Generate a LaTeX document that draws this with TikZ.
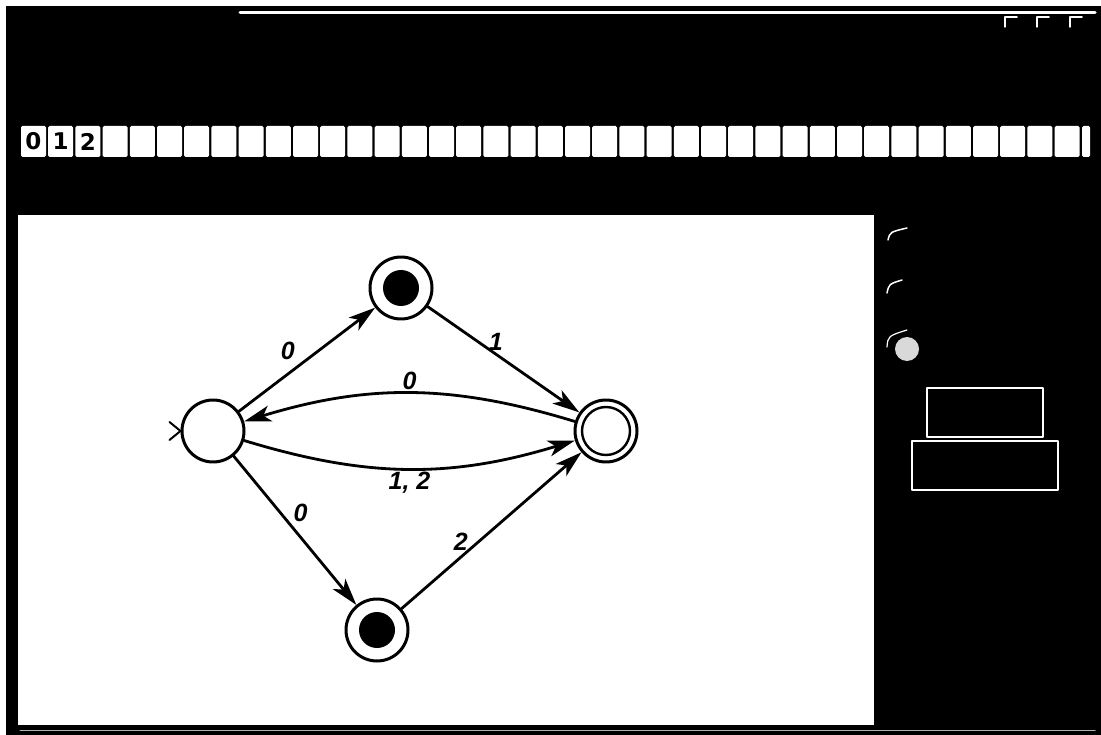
\documentclass[tikz,border=0pt]{standalone}
\usepackage{fontspec}
\setmainfont{Liberation Sans}
\newfontfamily\tapefont{DejaVu Sans}
\usetikzlibrary{arrows.meta}

\begin{document}
\begin{tikzpicture}[
			x=1pt, y=-1pt,
			line cap=round,
			line join=round,
			state/.style={circle, draw=black, fill=white, line width=3pt, minimum size=62pt, inner sep=0pt},
			edge/.style={line width=2.8pt, -{Stealth[length=27pt, width=16pt, inset=7pt]}},
			lbl/.style={font=\fontsize{25}{28}\selectfont\bfseries\itshape, inner sep=2pt},
			cell/.style={fill=white, rounded corners=1.5pt},
			ink/.style={draw=white, line width=1.6pt}
			]
			\useasboundingbox (0,0) rectangle (1101,735);
			
			% window
			\fill[white] (0,0) rectangle (1101,735);
			\fill[black] (6,6) rectangle (1101,735);
			\draw[white, line width=3pt] (240,13) -- (1095,13);
			\foreach \x in {1005,1037,1070}
				\draw[white, line width=1.5pt] (\x+12,17) -- (\x,17) -- (\x,27);
			
			% tape
			\foreach \k in {0,...,38}
				\fill[cell] ({21+27.2*\k},126) rectangle ++(25,31);
			\fill[cell] (1082,126) rectangle (1090,157);
			\foreach \d [count=\k from 0] in {0,1,2}
				\node[font=\tapefont\fontsize{23}{24}\selectfont\bfseries] (tape\d) at ({33.5+27.2*\k},141.5) {\d};
			
			% canvas
			\fill[white] (18,215) rectangle (874,725);
			\draw[gray!60, line width=1pt] (20,730) -- (1095,730);
			
			% states
			\node[state] (q0) at (213,431) {};
			\node[state] (q1) at (401,288) {};
			\node[state] (q2) at (377,630) {};
			\node[state] (q3) at (606,431) {};
			\fill (q1.center) circle[radius=18];
			\fill (q2.center) circle[radius=18];
			\draw[line width=2.4pt] (q3.center) circle[radius=24];
			
			% start marker
			\draw[line width=2pt] (q0.west) -- ++(-11,-9) (q0.west) -- ++(-11,9);
			
			% transitions
			\draw[edge] (q0) -- node[lbl, pos=0.45, above left=2pt] {0} (q1);
			\draw[edge] (q1) -- node[lbl, pos=0.45, above] {1} (q3);
			\draw[edge] (q3) to[bend right=17] node[lbl, midway, above] {0} (q0);
			\draw[edge] (q0) to[bend right=17] node[lbl, midway, below] {1, 2} (q3);
			\draw[edge] (q0) -- node[lbl, pos=0.38, right=10pt] {0} (q2);
			\draw[edge] (q2) -- node[lbl, pos=0.33, above=3pt] {2} (q3);
			
			% side panel
			\draw[white, line width=1.5pt] (888,240) .. controls (890,232) .. (907,228);
			\draw[white, line width=1.5pt] (887,293) .. controls (889,284) .. (902,280);
			\fill[white!85!black] (907,349) circle[radius=12];
			\draw[white, line width=1.2pt] (887,347) .. controls (888,336) .. (907,330);
			\draw[ink] (927,388) rectangle (1043,437);
			\draw[ink] (912,441) rectangle (1058,490);
		\end{tikzpicture}
\end{document}
